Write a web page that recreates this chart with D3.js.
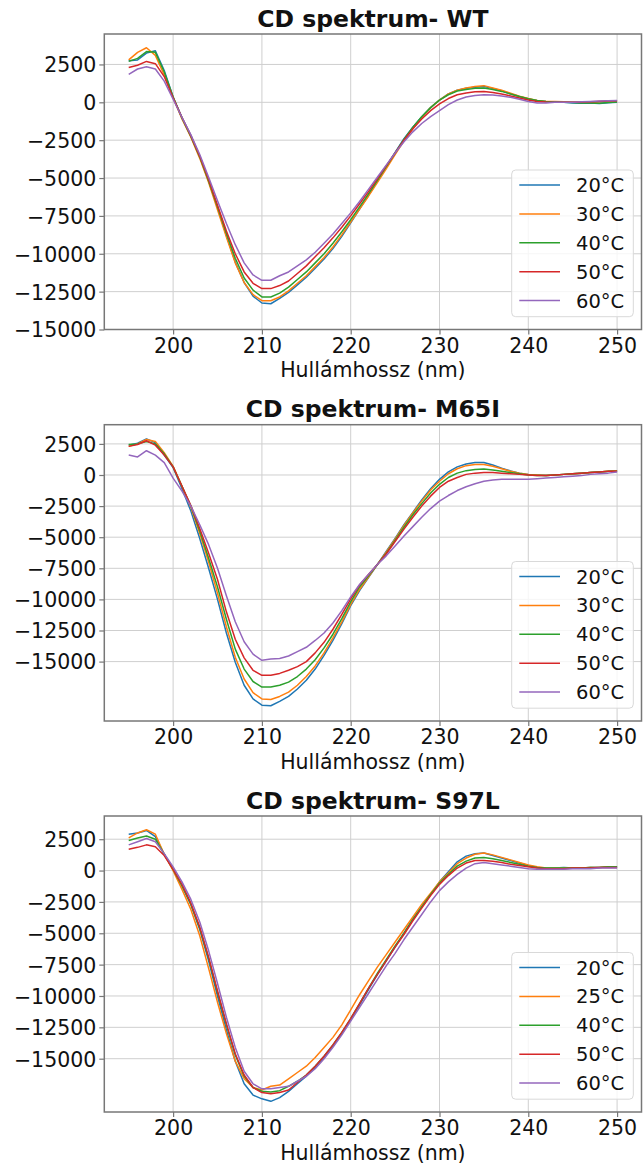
<!DOCTYPE html>
<html>
<head>
<meta charset="utf-8">
<script src="https://cdn.jsdelivr.net/npm/d3@7"></script>
<style>
  html, body { margin: 0; padding: 0; background: #fff; }
  svg { display: block; }
  text { font-family: "DejaVu Sans", sans-serif; fill: #111; }
</style>
</head>
<body>
<svg id="chart" width="643" height="1164"></svg>
<script>
// Wavelength grid (nm)
const wavelength = [195,196,197,198,199,200,201,202,203,204,205,206,207,208,209,210,
  211,212,213,214,215,216,217,218,219,220,221,222,223,224,225,226,227,228,229,230,
  231,232,233,234,235,236,237,238,239,240,241,242,243,244,245,246,247,248,249,250];

const yTicks = [-15000, -12500, -10000, -7500, -5000, -2500, 0, 2500];
const xTicks = [200, 210, 220, 230, 240, 250];

// ---- WT ----
const wtLabels = ["20°C", "30°C", "40°C", "50°C", "60°C"];
const wt20 = [2750,2800,3250,3400,2100,350,-1000,-2200,-3600,-5200,-6950,-8800,-10550,-11900,-12800,-13250,
  -13300,-12950,-12550,-12050,-11550,-10950,-10350,-9650,-8850,-7950,-7050,-6150,-5200,-4250,-3300,-2400,-1650,-950,-350,150,
  550,800,930,1000,1050,920,760,560,380,220,100,50,20,0,-50,-60,-40,-80,-30,0];
const wt30 = [2800,3300,3600,3100,1800,300,-1100,-2300,-3700,-5300,-7100,-8900,-10600,-11900,-12700,-13100,
  -13100,-12850,-12450,-11950,-11450,-10850,-10250,-9550,-8750,-7900,-7050,-6200,-5300,-4400,-3450,-2550,-1750,-1000,-350,150,
  550,800,950,1050,1100,950,800,600,400,250,120,60,50,30,20,0,10,50,80,100];
const wt40 = [2700,2900,3350,3300,2000,350,-1050,-2250,-3600,-5200,-6900,-8650,-10300,-11600,-12400,-12850,
  -12850,-12600,-12200,-11700,-11200,-10600,-10000,-9300,-8550,-7750,-6900,-6050,-5150,-4250,-3350,-2450,-1650,-950,-350,150,
  500,750,850,920,950,850,720,550,380,230,120,60,30,0,-20,-40,-50,-60,-20,20];
const wt50 = [2300,2450,2700,2550,1700,300,-1000,-2200,-3550,-5100,-6800,-8500,-10000,-11200,-11950,-12300,
  -12300,-12100,-11800,-11300,-10800,-10200,-9600,-8950,-8250,-7500,-6700,-5900,-5050,-4200,-3350,-2500,-1750,-1100,-550,-100,
  250,500,620,700,720,650,550,420,280,150,60,20,0,0,0,20,30,60,80,100];
const wt60 = [1850,2200,2350,2200,1400,200,-1000,-2150,-3450,-4950,-6500,-8000,-9400,-10600,-11400,-11750,
  -11750,-11450,-11200,-10800,-10400,-9900,-9300,-8700,-8000,-7300,-6550,-5750,-4950,-4150,-3350,-2600,-1950,-1400,-950,-550,
  -150,150,350,450,500,480,420,330,200,50,-50,-50,0,0,10,30,50,80,100,120];

// ---- M65I ----
const m65iLabels = ["20°C", "30°C", "40°C", "50°C", "60°C"];
const m65i20 = [2400,2550,2900,2600,1600,600,-1100,-2900,-5100,-7500,-10000,-12700,-15050,-16900,-18000,-18500,
  -18550,-18200,-17800,-17200,-16500,-15600,-14500,-13300,-11950,-10500,-9300,-8250,-7200,-6150,-5100,-4000,-3000,-2000,-1100,-350,
  250,650,880,1000,1000,800,550,330,150,50,0,-50,0,50,100,150,200,250,280,350];
const m65i30 = [2300,2500,2850,2700,1800,700,-900,-2600,-4700,-7000,-9500,-12200,-14650,-16400,-17500,-18000,
  -18050,-17800,-17450,-16900,-16200,-15350,-14300,-13100,-11800,-10400,-9200,-8200,-7200,-6200,-5150,-4050,-3050,-2100,-1200,-500,
  100,500,750,850,850,700,500,300,150,50,0,-50,0,50,100,150,200,250,300,350];
const m65i40 = [2450,2500,2700,2500,1700,650,-900,-2500,-4500,-6700,-9000,-11600,-14000,-15600,-16600,-17050,
  -17050,-16900,-16650,-16200,-15600,-14850,-13900,-12800,-11550,-10200,-9000,-8100,-7200,-6300,-5250,-4200,-3200,-2300,-1450,-750,
  -200,150,350,450,480,400,300,200,100,0,-50,-50,0,50,100,150,200,250,300,300];
const m65i50 = [2300,2450,2750,2400,1600,650,-900,-2450,-4300,-6300,-8400,-11000,-13200,-14700,-15700,-16100,
  -16100,-15950,-15700,-15400,-15000,-14300,-13450,-12400,-11200,-9950,-8850,-8000,-7200,-6350,-5350,-4350,-3400,-2500,-1700,-1000,
  -500,-200,50,150,200,200,150,100,50,0,-50,-50,0,50,100,150,200,250,300,300];
const m65i60 = [1600,1450,1950,1600,1000,-250,-1300,-2500,-4000,-5600,-7500,-9700,-11800,-13400,-14400,-14900,
  -14800,-14750,-14550,-14200,-13850,-13300,-12700,-11900,-10900,-9800,-8800,-8000,-7200,-6500,-5700,-4900,-4150,-3400,-2700,-2100,
  -1650,-1250,-950,-700,-500,-400,-350,-350,-350,-350,-300,-250,-200,-150,-100,-50,50,100,150,250];

// ---- S97L ----
const s97lLabels = ["20°C", "25°C", "40°C", "50°C", "60°C"];
const s97l20 = [2900,3000,3200,2700,1300,100,-1200,-2700,-4700,-7200,-10000,-12700,-15200,-17000,-17900,-18200,
  -18400,-18100,-17600,-17000,-16400,-15700,-14900,-14000,-13000,-11900,-10700,-9500,-8300,-7200,-6100,-5000,-3900,-2900,-1900,-900,
  -100,700,1150,1350,1400,1200,1000,800,600,400,250,200,200,250,200,200,250,250,300,300];
const s97l25 = [2600,3000,3250,2900,1300,0,-1500,-3100,-5200,-7800,-10500,-13000,-15200,-16600,-17300,-17500,
  -17200,-17100,-16600,-16100,-15600,-14900,-14100,-13300,-12300,-11100,-9900,-8800,-7700,-6700,-5700,-4700,-3700,-2700,-1800,-900,
  -200,550,1000,1300,1400,1250,1050,850,650,450,300,200,200,200,200,200,250,250,300,300];
const s97l40 = [2400,2600,2750,2500,1300,100,-1200,-2700,-4600,-7000,-9700,-12300,-14700,-16400,-17300,-17600,
  -17650,-17550,-17200,-16800,-16300,-15600,-14800,-13900,-12900,-11800,-10600,-9400,-8200,-7100,-6000,-5000,-3900,-2900,-1900,-1000,
  -300,350,750,1000,1050,950,800,650,500,350,250,200,200,200,200,200,250,250,300,300];
const s97l50 = [1700,1850,2050,1900,1200,100,-1100,-2600,-4500,-6900,-9600,-12200,-14600,-16300,-17300,-17700,
  -17800,-17700,-17500,-16900,-16300,-15600,-14800,-13900,-12900,-11800,-10600,-9400,-8300,-7200,-6100,-5100,-4000,-3000,-2000,-1100,
  -400,200,600,800,800,750,650,500,400,300,200,150,150,150,200,200,200,250,250,250];
const s97l60 = [2050,2300,2550,2300,1350,300,-900,-2300,-4100,-6400,-9000,-11700,-14100,-16000,-17000,-17400,
  -17400,-17300,-17200,-16800,-16400,-15800,-15000,-14100,-13100,-12000,-10900,-9800,-8700,-7600,-6600,-5500,-4500,-3500,-2500,-1600,
  -900,-300,200,550,650,550,450,350,250,150,100,100,100,100,150,150,150,200,200,200];

const colors = ["#1f77b4", "#ff7f0e", "#2ca02c", "#d62728", "#9467bd"];

const panels = [
  { title: "CD spektrum- WT",   labels: wtLabels,   series: [wt20, wt30, wt40, wt50, wt60],
    top: 34,  bottom: 329.5, yDomain: [-15000, 4510] },
  { title: "CD spektrum- M65I", labels: m65iLabels, series: [m65i20, m65i30, m65i40, m65i50, m65i60],
    top: 424.7, bottom: 721, yDomain: [-19775, 4043] },
  { title: "CD spektrum- S97L", labels: s97lLabels, series: [s97l20, s97l25, s97l40, s97l50, s97l60],
    top: 816, bottom: 1112, yDomain: [-19250, 4350] }
];

const left = 104.3, right = 641.5;
const svg = d3.select("#chart");
const fmt = v => (v < 0 ? "\u2212" + Math.abs(v) : String(v));

panels.forEach((p, pi) => {
  const x = d3.scaleLinear().domain([192.25, 252.75]).range([left, right]);
  const y = d3.scaleLinear().domain(p.yDomain).range([p.bottom, p.top]);
  const g = svg.append("g");

  const clipId = "clip" + pi;
  g.append("clipPath").attr("id", clipId)
    .append("rect").attr("x", left).attr("y", p.top)
    .attr("width", right - left).attr("height", p.bottom - p.top);

  // grid
  const grid = g.append("g").attr("stroke", "#cfcfcf").attr("stroke-width", 1);
  xTicks.forEach(t => grid.append("line")
    .attr("x1", x(t)).attr("x2", x(t)).attr("y1", p.top).attr("y2", p.bottom));
  yTicks.forEach(t => grid.append("line")
    .attr("x1", left).attr("x2", right).attr("y1", y(t)).attr("y2", y(t)));

  // spectra
  const line = d3.line().x((d, i) => x(wavelength[i])).y(d => y(d));
  const lines = g.append("g").attr("clip-path", `url(#${clipId})`);
  p.series.forEach((s, si) => {
    lines.append("path").datum(s)
      .attr("d", line)
      .attr("fill", "none")
      .attr("stroke", colors[si])
      .attr("stroke-width", 1.5)
      .attr("stroke-linejoin", "round");
  });

  // axes
  const xAxis = d3.axisBottom(x).tickValues(xTicks).tickSize(5).tickPadding(4).tickFormat(d3.format("d"));
  const yAxis = d3.axisLeft(y).tickValues(yTicks).tickSize(5).tickPadding(3).tickFormat(fmt);

  const gx = g.append("g").attr("transform", `translate(0,${p.bottom})`).call(xAxis);
  const gy = g.append("g").attr("transform", `translate(${left},0)`).call(yAxis);
  [gx, gy].forEach(a => {
    a.select(".domain").remove();
    a.selectAll(".tick line").attr("stroke", "#777").attr("stroke-width", 1.2);
    a.selectAll(".tick text").attr("fill", "#111")
      .style("font-family", "'DejaVu Sans', sans-serif").style("font-size", "20.5px");
  });
  gx.selectAll(".tick text").attr("dy", null).attr("y", 23);
  gy.selectAll(".tick text").attr("dy", "0.36em");

  // frame
  g.append("rect").attr("x", left).attr("y", p.top)
    .attr("width", right - left).attr("height", p.bottom - p.top)
    .attr("fill", "none").attr("stroke", "#777").attr("stroke-width", 1.5);

  // title
  g.append("text").attr("x", (left + right) / 2).attr("y", p.top - 7.5)
    .attr("text-anchor", "middle").style("font-size", "23.5px").style("font-weight", "bold")
    .text(p.title);

  // x label
  g.append("text").attr("x", (left + right) / 2).attr("y", p.bottom + 47.5)
    .attr("text-anchor", "middle").style("font-size", "20.5px")
    .text("Hullámhossz (nm)");

  // legend
  const lw = 121.6, lh = 146.7;
  const lx = right - 8.2 - lw, ly = p.bottom - 12.8 - lh;
  const lg = g.append("g").attr("transform", `translate(${lx},${ly})`);
  lg.append("rect").attr("width", lw).attr("height", lh).attr("rx", 4)
    .attr("fill", "#fff").attr("fill-opacity", 0.8)
    .attr("stroke", "#d9d9d9").attr("stroke-width", 1);
  p.labels.forEach((lab, i) => {
    const cy = 15 + i * 28.9;
    lg.append("line").attr("x1", 7.6).attr("x2", 48.3).attr("y1", cy).attr("y2", cy)
      .attr("stroke", colors[i]).attr("stroke-width", 1.5);
    lg.append("text").attr("x", 64.3).attr("y", cy).attr("dy", "0.36em")
      .style("font-size", "19.5px").text(lab);
  });
});
</script>
</body>
</html>
